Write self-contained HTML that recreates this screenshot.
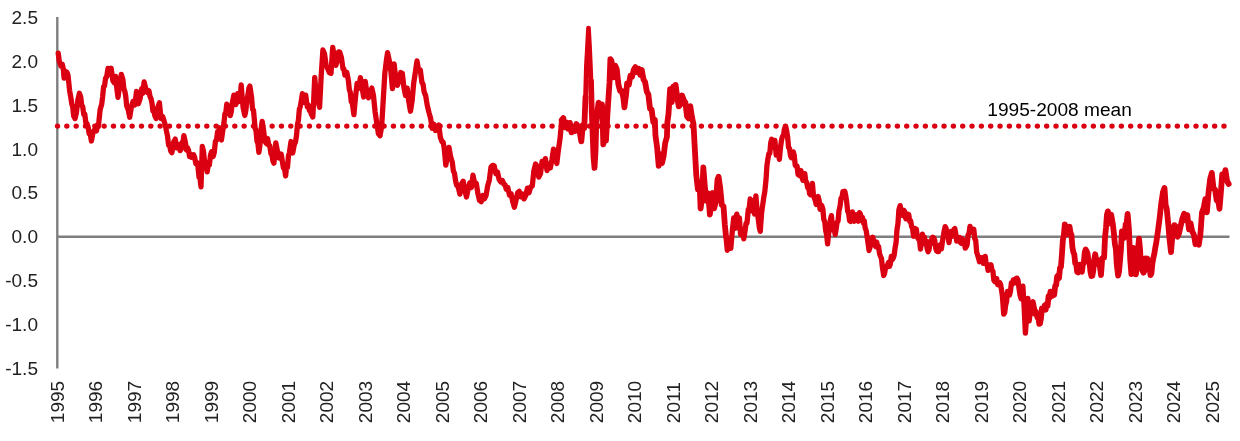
<!DOCTYPE html>
<html><head><meta charset="utf-8"><title>chart</title>
<style>
html,body{margin:0;padding:0;background:#fff;}
svg{display:block;font-family:"Liberation Sans",sans-serif;}
text{font-size:18px;fill:#222;}
</style></head><body>
<svg width="1240" height="441" viewBox="0 0 1240 441">
<rect width="1240" height="441" fill="#fff"/>

<line x1="57.3" y1="17.1" x2="57.3" y2="368.4" stroke="#7f7f7f" stroke-width="2.4"/>
<line x1="57.3" y1="236.8" x2="1229.5" y2="236.8" stroke="#7f7f7f" stroke-width="2.4"/>
<text transform="translate(38.0,24.1) scale(1.06,1)" text-anchor="end">2.5</text>
<text transform="translate(38.0,67.9) scale(1.06,1)" text-anchor="end">2.0</text>
<text transform="translate(38.0,111.7) scale(1.06,1)" text-anchor="end">1.5</text>
<text transform="translate(38.0,155.6) scale(1.06,1)" text-anchor="end">1.0</text>
<text transform="translate(38.0,199.4) scale(1.06,1)" text-anchor="end">0.5</text>
<text transform="translate(38.0,243.2) scale(1.06,1)" text-anchor="end">0.0</text>
<text transform="translate(38.0,287.0) scale(1.06,1)" text-anchor="end">-0.5</text>
<text transform="translate(38.0,330.8) scale(1.06,1)" text-anchor="end">-1.0</text>
<text transform="translate(38.0,374.7) scale(1.06,1)" text-anchor="end">-1.5</text>
<text transform="translate(63.9,423.2) rotate(-90) scale(1.06,1)">1995</text>
<text transform="translate(102.4,423.2) rotate(-90) scale(1.06,1)">1996</text>
<text transform="translate(140.9,423.2) rotate(-90) scale(1.06,1)">1997</text>
<text transform="translate(179.4,423.2) rotate(-90) scale(1.06,1)">1998</text>
<text transform="translate(217.9,423.2) rotate(-90) scale(1.06,1)">1999</text>
<text transform="translate(256.4,423.2) rotate(-90) scale(1.06,1)">2000</text>
<text transform="translate(294.8,423.2) rotate(-90) scale(1.06,1)">2001</text>
<text transform="translate(333.3,423.2) rotate(-90) scale(1.06,1)">2002</text>
<text transform="translate(371.8,423.2) rotate(-90) scale(1.06,1)">2003</text>
<text transform="translate(410.3,423.2) rotate(-90) scale(1.06,1)">2004</text>
<text transform="translate(448.8,423.2) rotate(-90) scale(1.06,1)">2005</text>
<text transform="translate(487.3,423.2) rotate(-90) scale(1.06,1)">2006</text>
<text transform="translate(525.8,423.2) rotate(-90) scale(1.06,1)">2007</text>
<text transform="translate(564.3,423.2) rotate(-90) scale(1.06,1)">2008</text>
<text transform="translate(602.8,423.2) rotate(-90) scale(1.06,1)">2009</text>
<text transform="translate(641.2,423.2) rotate(-90) scale(1.06,1)">2010</text>
<text transform="translate(679.7,423.2) rotate(-90) scale(1.06,1)">2011</text>
<text transform="translate(718.2,423.2) rotate(-90) scale(1.06,1)">2012</text>
<text transform="translate(756.7,423.2) rotate(-90) scale(1.06,1)">2013</text>
<text transform="translate(795.2,423.2) rotate(-90) scale(1.06,1)">2014</text>
<text transform="translate(833.7,423.2) rotate(-90) scale(1.06,1)">2015</text>
<text transform="translate(872.2,423.2) rotate(-90) scale(1.06,1)">2016</text>
<text transform="translate(910.7,423.2) rotate(-90) scale(1.06,1)">2017</text>
<text transform="translate(949.2,423.2) rotate(-90) scale(1.06,1)">2018</text>
<text transform="translate(987.7,423.2) rotate(-90) scale(1.06,1)">2019</text>
<text transform="translate(1026.2,423.2) rotate(-90) scale(1.06,1)">2020</text>
<text transform="translate(1064.6,423.2) rotate(-90) scale(1.06,1)">2021</text>
<text transform="translate(1103.1,423.2) rotate(-90) scale(1.06,1)">2022</text>
<text transform="translate(1141.6,423.2) rotate(-90) scale(1.06,1)">2023</text>
<text transform="translate(1180.1,423.2) rotate(-90) scale(1.06,1)">2024</text>
<text transform="translate(1218.6,423.2) rotate(-90) scale(1.06,1)">2025</text>
<line x1="57.5" y1="126.1" x2="1224.2" y2="126.1" stroke="#db0011" stroke-width="5.4" stroke-linecap="round" stroke-dasharray="0 9.332"/>
<text transform="translate(987.3,115.9) scale(1.05,1)" style="font-size:18.2px;fill:#000">1995-2008 mean</text>
<path d="M58.2 53.1 L59.3 61.3 L60.9 65.9 L62.2 64.2 L63.3 68.8 L64.1 78.2 L65.5 71.4 L66.9 72.3 L68.0 75.2 L69.6 90.6 L70.7 96.7 L71.8 104.0 L72.75 107.0 L73.7 116.1 L75.0 118.6 L76.4 112.9 L77.8 100.3 L79.4 93.3 L80.7 96.8 L81.7 105.3 L82.7 106.6 L83.75 114.4 L84.8 114.2 L85.9 123.3 L87.0 123.5 L88.1 127.0 L89.2 133.7 L90.3 134.1 L91.4 141.0 L93.0 132.7 L93.95 130.5 L94.9 129.6 L96.5 130.9 L97.45 124.9 L98.4 126.6 L100.1 109.8 L101.7 104.2 L102.65 96.5 L103.6 86.7 L104.55 86.0 L105.5 78.5 L106.75 76.5 L108.0 68.4 L109.6 74.4 L111.2 68.3 L112.9 80.8 L114.2 82.6 L115.6 76.4 L116.9 89.0 L118.0 97.3 L119.7 85.0 L121.3 74.3 L122.9 79.5 L123.85 88.6 L124.8 91.1 L125.75 96.2 L126.7 106.0 L128.4 110.4 L129.7 117.2 L131.4 106.9 L133.0 101.4 L134.6 105.0 L135.55 99.4 L136.5 91.5 L137.45 98.7 L138.4 103.7 L140.1 98.7 L141.7 88.6 L142.8 93.3 L144.1 82.0 L145.8 88.6 L147.4 92.6 L149.0 90.9 L150.0 96.5 L151.0 98.6 L151.95 102.8 L152.9 110.9 L153.85 110.3 L154.8 115.6 L156.1 118.5 L157.8 107.1 L159.4 102.8 L161.0 118.5 L162.7 116.6 L164.3 121.7 L165.4 125.5 L166.5 131.3 L167.55 136.2 L168.6 145.3 L169.7 145.8 L170.8 151.1 L171.9 152.6 L172.85 147.1 L173.8 141.8 L175.2 139.1 L176.8 147.7 L178.4 144.6 L180.1 150.6 L181.05 149.3 L182.0 142.3 L182.95 142.2 L183.9 135.6 L185.5 143.0 L186.45 150.0 L187.4 147.6 L188.5 150.3 L189.6 156.6 L190.55 154.2 L191.5 157.2 L192.5 155.1 L193.6 154.7 L194.7 157.7 L195.8 163.6 L196.9 162.6 L197.95 166.6 L199.0 177.2 L200.0 178.0 L201.0 186.9 L202.3 146.5 L203.4 150.8 L204.5 161.1 L205.85 162.7 L207.2 171.9 L208.3 164.1 L209.4 164.9 L210.5 155.0 L211.6 151.8 L213.2 156.4 L214.3 152.3 L215.4 141.2 L216.5 140.3 L217.6 131.6 L218.55 133.3 L219.5 127.8 L220.45 135.6 L221.4 140.0 L223.0 129.2 L223.95 123.0 L224.9 113.9 L225.85 112.4 L226.8 104.1 L228.4 113.3 L229.35 110.4 L230.3 115.6 L231.25 111.9 L232.2 103.3 L233.9 95.1 L234.85 101.4 L235.8 104.6 L236.75 102.2 L237.7 93.6 L238.8 98.5 L239.9 101.3 L241.2 84.9 L242.15 96.9 L243.1 107.5 L244.8 115.5 L245.75 111.2 L246.7 102.1 L248.0 94.8 L248.95 88.2 L249.9 86.1 L251.6 97.6 L252.55 109.3 L253.5 110.2 L255.1 128.0 L256.05 131.0 L257.0 141.3 L257.95 143.6 L258.9 152.4 L259.85 145.9 L260.8 131.2 L262.2 121.4 L263.8 131.8 L264.75 141.1 L265.7 142.6 L266.65 143.6 L267.6 138.5 L268.7 145.2 L269.8 145.7 L270.9 153.6 L272.0 155.3 L272.95 161.1 L273.9 163.2 L274.85 154.6 L275.8 142.8 L277.4 151.0 L278.35 153.1 L279.3 158.1 L280.25 154.0 L281.2 154.2 L282.3 161.0 L283.4 167.9 L284.5 168.3 L285.6 176.0 L286.55 167.3 L287.5 167.4 L288.45 155.8 L289.4 152.7 L291.0 141.5 L292.7 153.0 L294.3 144.6 L295.4 142.2 L296.5 135.8 L297.45 124.7 L298.4 120.3 L299.35 109.3 L300.3 106.5 L301.35 100.8 L302.4 93.6 L304.1 102.4 L305.7 95.2 L307.3 106.8 L308.3 105.1 L309.3 110.3 L310.25 109.4 L311.2 113.9 L312.8 117.0 L313.75 99.3 L314.7 77.3 L316.3 95.3 L318.0 100.6 L319.6 107.4 L321.2 75.7 L322.9 50.0 L324.5 53.7 L326.1 65.3 L327.8 68.9 L329.4 72.6 L331.0 73.4 L332.7 47.3 L334.3 56.8 L335.9 65.3 L337.6 58.8 L338.65 51.9 L339.7 52.1 L341.4 57.6 L343.0 68.9 L343.95 69.1 L344.9 75.2 L345.85 72.7 L346.8 72.4 L348.4 80.4 L349.35 89.7 L350.3 92.4 L351.25 101.7 L352.2 102.5 L353.9 114.7 L355.5 97.1 L357.1 83.3 L358.8 88.3 L360.4 77.7 L362.0 87.1 L363.7 97.0 L365.3 81.5 L366.9 93.0 L368.6 97.8 L370.2 92.7 L371.8 88.1 L373.5 95.7 L375.1 111.8 L376.7 122.5 L378.4 133.6 L380.0 135.8 L381.6 127.1 L383.3 99.0 L384.9 72.7 L386.5 59.5 L387.6 52.7 L389.3 60.7 L390.9 71.6 L392.5 88.7 L394.1 63.8 L395.8 78.9 L397.4 85.4 L399.0 80.7 L400.7 72.5 L402.3 73.3 L403.9 87.4 L405.6 95.6 L407.2 88.2 L408.8 101.6 L410.5 111.2 L412.1 100.9 L413.7 83.1 L415.4 72.0 L417.0 60.9 L418.6 70.4 L420.3 69.9 L421.9 82.3 L423.0 84.2 L424.1 91.7 L425.7 95.8 L427.3 105.7 L429.0 112.6 L430.6 118.3 L432.2 128.4 L433.9 124.1 L435.5 130.5 L437.1 128.2 L438.8 125.0 L440.4 137.6 L442.0 141.7 L443.1 142.0 L444.2 148.1 L445.8 165.2 L447.4 155.4 L449.0 147.4 L450.7 157.1 L452.3 162.2 L453.4 171.3 L454.5 173.3 L455.6 181.0 L456.7 185.4 L457.65 184.9 L458.6 188.6 L459.9 194.1 L461.6 183.9 L463.2 181.2 L464.8 190.4 L466.5 197.0 L468.1 188.9 L469.7 182.9 L471.4 187.5 L473.0 175.2 L474.6 182.9 L476.3 183.3 L477.9 193.5 L479.5 200.4 L481.2 201.6 L482.8 195.5 L484.4 198.9 L486.1 195.3 L487.7 185.7 L489.3 180.2 L491.0 167.1 L492.6 165.4 L494.2 165.9 L495.9 173.7 L497.5 172.0 L499.1 179.4 L500.7 181.9 L502.4 180.6 L504.0 184.4 L505.1 184.7 L506.2 189.2 L507.8 187.5 L509.5 195.2 L511.1 193.8 L512.7 201.5 L514.4 207.2 L516.0 200.5 L517.6 192.8 L519.3 191.4 L520.9 196.8 L522.5 194.1 L524.1 198.9 L525.8 195.4 L527.4 188.2 L529.0 192.8 L530.7 186.9 L532.3 186.0 L533.9 170.6 L535.6 164.0 L537.2 166.4 L538.8 177.2 L540.5 173.7 L542.1 161.4 L543.7 164.9 L545.4 158.6 L547.0 170.5 L548.6 164.1 L550.3 167.9 L551.9 160.0 L553.5 149.2 L555.2 155.6 L556.8 163.5 L558.4 150.0 L560.1 138.2 L561.7 120.2" fill="none" stroke="#db0011" stroke-width="5.3" stroke-linejoin="round" stroke-linecap="round"/>
<path d="M561.7 120.2 L563.3 118.1 L565.0 127.4 L566.6 122.5 L568.2 128.8 L569.9 122.9 L571.5 132.4 L573.1 126.5 L574.8 131.0 L576.4 124.0 L578.0 130.8 L579.7 131.9 L581.3 141.4 L582.9 125.0 L584.3 128.2 L585.5 97.2" fill="none" stroke="#db0011" stroke-width="5.8" stroke-linejoin="round" stroke-linecap="round"/>
<path d="M585.5 97.2 L586.4 65.6 L587.3 50.0 L588.5 28.0 L589.4 44.2 L590.2 61.3 L591.0 81.2 L591.8 112.3" fill="none" stroke="#db0011" stroke-width="4.7" stroke-linejoin="round" stroke-linecap="round"/>
<path d="M591.0 81.2 L591.8 112.3 L592.6 132.6 L593.5 156.4 L594.5 167.9 L595.5 151.4 L596.3 121.9 L597.3 112.5 L598.6 102.7 L600.2 110.8 L602.0 104.4 L602.7 122.3 L603.3 144.4 L604.6 127.5 L606.0 140.6 L607.3 116.4 L608.5 97.8 L609.5 82.4 L610.4 59.2 L611.4 60.6 L612.4 67.5 L613.5 77.4 L615.2 65.7 L616.8 69.3 L618.4 84.6 L620.1 90.9 L621.7 90.8 L623.3 97.3 L624.4 107.4 L626.1 94.4 L627.1 83.4 L628.8 84.9 L630.4 75.8 L632.0 76.9 L633.7 69.9 L635.3 67.1 L636.9 72.1 L638.6 68.7 L640.2 74.9 L641.8 70.0 L643.5 79.4 L645.1 82.1 L646.7 91.3 L648.4 94.6 L650.0 108.6 L651.6 109.5 L653.3 122.2 L654.9 119.9 L655.4 134.8 L657.1 147.3 L658.7 165.8 L660.3 154.0 L662.0 163.2 L663.6 156.2 L665.2 143.0 L666.9 137.0 L667.4 122.1 L668.5 114.0 L670.1 89.1 L671.8 102.1 L673.4 86.4 L674.5 91.3 L675.6 84.9 L677.2 96.9 L678.8 106.4 L680.5 104.4 L682.1 95.5 L683.7 100.0 L685.4 102.6 L687.0 116.5 L688.6 118.4 L690.3 106.2 L691.9 116.9 L693.5 124.2 L694.6 144.9 L696.3 175.3 L697.9 189.4 L699.5 182.0 L700.6 208.5 L702.2 196.7 L703.3 167.5 L705.0 188.4 L706.6 200.9 L708.2 193.4 L709.9 214.6 L711.5 197.5 L712.6 193.0 L714.2 208.4 L715.9 201.3 L717.5 179.6 L718.6 176.8 L720.2 188.0 L721.8 204.9 L723.5 206.2 L724.8 224.3 L726.0 236.7" fill="none" stroke="#db0011" stroke-width="5.8" stroke-linejoin="round" stroke-linecap="round"/>
<path d="M726.0 236.7 L727.3 250.3 L728.25 242.1 L729.2 239.1 L730.8 248.4 L732.4 230.0 L733.7 218.0 L734.9 228.3 L735.85 217.8 L736.8 214.1 L738.1 228.1 L739.4 218.0 L740.6 234.5 L741.55 230.8 L742.5 229.3 L743.8 238.8 L745.1 230.7 L746.05 223.4 L747.0 223.1 L748.3 209.3 L749.25 207.8 L750.2 199.0 L751.4 210.9 L752.7 200.7 L753.65 208.9 L754.6 214.0 L755.9 195.8 L757.1 210.3 L758.4 220.0 L759.35 227.7 L760.3 231.4 L761.6 212.7 L762.9 203.6 L763.85 196.9 L764.8 191.7 L766.0 180.1 L766.95 165.4 L767.9 158.9 L768.85 153.8 L769.8 153.4 L770.75 142.6 L771.7 139.2 L772.7 142.2 L773.7 147.2 L774.9 140.4 L776.2 155.2 L777.15 150.5 L778.1 148.9 L779.4 159.3 L780.6 146.5 L781.55 140.0 L782.5 136.5 L783.45 136.4 L784.4 128.9 L785.7 126.5 L786.65 130.9 L787.6 136.6 L788.55 147.4 L789.5 148.3 L790.45 155.4 L791.4 157.7 L792.35 156.9 L793.3 151.9 L794.25 155.2 L795.2 165.1 L796.15 166.4 L797.1 166.2 L798.05 174.4 L799.0 175.2 L800.0 175.8 L801.0 170.5 L801.95 177.3 L802.9 180.2 L803.85 178.0 L804.8 173.6 L805.75 181.4 L806.7 182.2 L807.65 187.6 L808.6 186.4 L809.55 193.6 L810.5 194.8 L811.45 189.8 L812.4 183.3 L813.35 194.3 L814.3 197.9 L815.25 200.3 L816.2 204.5 L817.15 197.8 L818.1 196.6 L819.05 199.9 L820.0 209.3 L820.95 204.9 L821.9 205.9 L822.85 209.1 L823.8 219.6 L824.75 221.5 L825.7 230.7 L826.65 234.8 L827.6 243.9 L828.55 233.7 L829.5 230.3 L830.45 219.5 L831.4 215.6 L832.35 225.9 L833.3 228.4 L834.25 229.8 L835.2 234.5 L836.15 228.7 L837.1 222.2 L838.05 221.1 L839.0 210.7 L840.0 206.7 L841.0 198.2 L841.95 197.9 L842.9 191.7 L843.85 194.6 L844.8 191.2 L845.75 195.9 L846.7 202.0 L847.65 211.3 L848.6 212.7 L849.55 220.7 L850.5 221.4 L851.45 215.9 L852.4 211.9 L853.35 218.1 L854.3 221.2 L855.25 220.3 L856.2 214.8 L857.15 220.3 L858.1 221.2 L859.5 212.6 L860.45 214.2 L861.4 220.5 L862.35 217.2 L863.3 222.7 L864.25 220.8 L865.2 228.1 L866.15 230.4 L867.1 236.7 L868.05 243.1 L869.0 250.5 L870.0 247.4 L871.0 238.1 L871.95 241.0 L872.9 237.2 L873.85 243.8 L874.8 245.4 L875.75 246.6 L876.7 242.0 L877.65 247.3 L878.6 246.6 L879.55 253.7 L880.5 256.4 L881.45 258.4 L882.4 267.2 L883.7 275.5 L884.65 273.2 L885.6 266.7 L886.55 267.4 L887.5 265.0 L888.45 262.5 L889.4 266.4 L890.35 264.0 L891.3 256.4 L892.25 259.7 L893.2 258.1 L894.15 255.1 L895.1 247.8 L896.05 242.7 L897.0 229.5 L897.95 223.9 L898.9 209.8 L900.2 205.6 L901.15 213.1 L902.1 215.2 L903.05 215.7 L904.0 210.3 L904.95 212.3 L905.9 218.9 L906.85 214.0 L907.8 214.1 L908.75 214.6 L909.7 221.5 L910.65 220.8 L911.6 226.6 L912.55 227.6 L913.5 236.3 L914.45 230.4 L915.4 228.5 L916.35 229.3 L917.3 236.9 L918.25 238.7 L919.2 237.2 L920.5 249.1 L921.45 239.4 L922.4 234.1 L923.35 239.7 L924.3 236.9 L925.25 244.1 L926.2 241.0 L927.15 248.8 L928.1 251.7 L929.05 249.6 L930.0 241.7 L930.95 243.7 L931.9 238.4 L932.85 237.3 L933.8 238.0 L934.75 240.4 L935.7 248.1 L936.65 250.9 L937.6 251.6 L938.55 251.7 L939.5 245.3 L940.45 244.6 L941.4 248.9 L942.35 242.1 L943.3 236.1 L944.25 230.7 L945.2 226.7 L946.15 228.5 L947.1 235.3 L948.05 236.3 L949.0 242.7 L950.0 234.7 L951.0 231.5 L951.95 236.3 L952.9 235.6 L953.85 229.5 L954.8 228.5 L955.75 233.7 L956.7 241.2 L957.65 237.9 L958.6 237.8 L959.55 237.5 L960.5 242.6 L961.45 243.3 L962.4 238.8 L963.35 244.1 L964.3 241.2 L965.25 248.2 L966.2 246.8 L967.15 244.8 L968.1 234.9 L969.05 233.4 L970.0 226.3 L970.95 229.8 L971.9 231.1 L972.85 232.4 L973.8 229.3 L974.75 238.7 L975.7 240.4 L976.65 252.2 L977.6 255.0 L978.55 258.1 L979.5 261.7 L980.45 257.7 L981.4 258.7 L982.35 257.7 L983.3 263.3 L984.25 260.7 L985.2 256.4 L986.15 264.1 L987.1 264.4 L988.05 270.3 L989.0 269.1 L990.0 269.0 L991.0 264.8 L991.95 270.2 L992.9 271.1 L993.85 280.2 L994.8 281.7 L995.75 282.0 L996.7 278.6 L997.65 284.6 L998.6 284.8 L999.55 282.5 L1000.5 283.9 L1001.45 289.6 L1002.4 295.8 L1003.7 314.2 L1004.65 312.8 L1005.6 305.3 L1006.55 301.6 L1007.5 291.4 L1008.5 295.2 L1009.5 295.1 L1010.45 291.3 L1011.4 282.9 L1012.35 284.1 L1013.3 279.8 L1014.25 279.6 L1015.2 282.8 L1016.15 278.4 L1017.1 278.2 L1018.05 280.5 L1019.0 288.3 L1020.0 294.9 L1021.0 298.7 L1021.95 290.4 L1022.9 286.1 L1024.1 306.6 L1025.4 333.2 L1026.7 315.5 L1027.9 298.3 L1029.2 320.9 L1030.15 312.9 L1031.1 313.8 L1032.05 305.6 L1033.0 301.8 L1034.3 308.3 L1035.25 314.4 L1036.2 311.6 L1037.15 317.6 L1038.1 316.7 L1039.05 324.2 L1040.0 323.4" fill="none" stroke="#db0011" stroke-width="5.3" stroke-linejoin="round" stroke-linecap="round"/>
<path d="M1040.0 323.4 L1040.95 318.4 L1041.9 308.4 L1042.85 308.4 L1043.8 308.3 L1044.75 305.5 L1045.7 309.7 L1046.65 303.9 L1047.6 305.9 L1048.55 296.1 L1049.5 297.8 L1050.45 291.6 L1051.4 292.6 L1052.35 295.9 L1053.3 293.4 L1054.25 294.8 L1055.2 285.8 L1056.15 285.1 L1057.1 276.7 L1058.05 275.3 L1059.0 278.3 L1060.0 267.9 L1061.0 266.8 L1061.95 254.1 L1062.9 239.7 L1063.85 235.0 L1064.8 224.3 L1065.75 226.2 L1066.7 234.4 L1067.65 233.4 L1068.6 229.1 L1069.55 226.8 L1070.5 232.8 L1071.45 235.0 L1072.4 247.3 L1073.35 252.3 L1074.3 254.4 L1075.25 263.4 L1076.2 263.8 L1077.15 272.0 L1078.1 272.5 L1079.05 270.6 L1080.0 264.6 L1080.95 265.9 L1081.9 271.8 L1082.85 264.4 L1083.8 263.1 L1084.75 252.3 L1085.7 249.5 L1086.65 251.4 L1087.6 253.7 L1088.55 262.2 L1089.5 262.2 L1090.45 271.7 L1091.4 276.1 L1092.35 275.8 L1093.3 270.5 L1094.25 259.5 L1095.2 254.3 L1096.15 260.1 L1097.1 263.8 L1098.05 260.1 L1099.0 263.3 L1100.0 267.2 L1101.0 275.1 L1102.2 258.4 L1103.15 257.7 L1104.1 257.6 L1105.05 237.0 L1106.0 227.8 L1106.95 214.8 L1107.9 211.4 L1108.85 216.1 L1109.8 223.3 L1111.1 214.5 L1112.05 219.6 L1113.0 225.3 L1113.95 233.9 L1114.9 244.1 L1115.85 248.8 L1116.8 264.8 L1118.1 275.7 L1119.05 271.6 L1120.0 260.6 L1120.95 249.4 L1121.9 231.5 L1122.85 236.3 L1123.8 237.9 L1124.75 232.7 L1125.7 224.0 L1126.65 223.3 L1127.6 213.8 L1128.9 228.4 L1130.2 259.2 L1131.4 274.1 L1132.35 258.5 L1133.3 247.9 L1134.6 260.9 L1135.9 274.4 L1136.85 265.4 L1137.8 251.6 L1139.0 238.6 L1140.0 248.8 L1141.0 265.1 L1142.2 270.1 L1143.5 272.7 L1144.45 270.8 L1145.4 258.4 L1146.35 263.6 L1147.3 258.5 L1148.25 264.4 L1149.2 265.3 L1150.5 275.1 L1151.45 273.2 L1152.4 263.4 L1153.35 257.7 L1154.3 254.1 L1155.25 247.8 L1156.2 243.1 L1158.0 230.7 L1159.6 218.4 L1161.2 203.8 L1162.9 192.3 L1164.5 187.9 L1165.6 204.7 L1166.7 208.5 L1168.3 224.6 L1169.4 237.6 L1171.0 252.2 L1172.7 231.6 L1174.3 225.1 L1175.9 226.4 L1177.6 236.8 L1179.2 232.6 L1180.8 225.3 L1182.4 218.5 L1184.1 213.8 L1185.7 220.4 L1187.3 215.1 L1189.0 229.4 L1190.6 223.3 L1192.2 231.4 L1193.9 234.8 L1195.5 244.2 L1197.1 239.4 L1198.8 244.7 L1200.4 234.4 L1202.0 212.4 L1203.7 207.7 L1205.3 199.3 L1206.9 212.3 L1208.6 191.8 L1210.2 178.7 L1211.8 172.9 L1213.5 188.5 L1215.1 189.6 L1216.7 200.4 L1218.4 201.9 L1219.5 208.8 L1221.1 189.6 L1222.2 174.4 L1223.8 177.1 L1225.4 170.1 L1227.1 181.1 L1228.7 184.0" fill="none" stroke="#db0011" stroke-width="5.8" stroke-linejoin="round" stroke-linecap="round"/>
</svg></body></html>
